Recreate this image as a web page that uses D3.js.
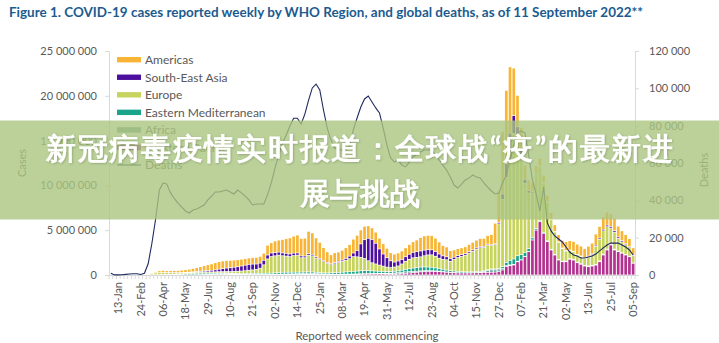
<!DOCTYPE html>
<html><head><meta charset="utf-8">
<script src="https://cdn.jsdelivr.net/npm/d3@7"></script>
<style>
body{margin:0;background:#fff}
svg{display:block}
text{font-family:Lato,"Open Sans",sans-serif}
</style>
</head><body>
<svg id="c" width="719" height="343"></svg>
<script>
// ---- DATA (weekly cases in thousands, week commencing 30-Dec-2019 .. 05-Sep-2022) ----
const firstWeek = "2019-12-30";
const westernPacific = [
0,0,0,1,10,20,20,10,5,3, 3,4,6,10,10,8,6,5,5,5, 5,6,7,8,10,12,15,18,25,35,
40,45,42,38,35,32,30,28,27,25, 25,25,27,30,33,40,45,50,55,60, 60,60,65,75,70,60,50,45,40,40,
40,45,50,55,60,70,80,100,110,120, 125,130,135,130,120,110,110,120,140,180, 220,260,300,350,380,400,400,390,370,340,
300,270,250,230,220,220,220,230,250,260, 270,290,300,320,370,560,930,1040,1120,1480,
1670,2040,2600,3900,5000,5950,4650,3720,2790,2230, 1670,1480,1480,1750,1670,1370,1190,1000,930,1000,
1100,1480,2230,2790,3350,2790,2600,2420,2230,2040, 1300];
const africa = [
0,0,0,0,0,0,0,0,0,0, 0,1,2,3,4,5,6,8,10,12, 15,20,25,30,40,50,60,75,90,100,
95,85,70,60,55,45,40,35,35,35, 35,35,40,40,45,50,55,60,65,75, 90,110,120,130,120,100,80,65,55,45,
40,40,40,40,40,40,40,40,40,40, 40,45,50,60,70,90,110,140,160,170, 160,140,120,110,100,90,80,70,60,50,
40,35,30,25,20,20,20,20,25,40, 100,200,270,250,200,150,120,90,70,50,
40,30,25,20,20,15,15,15,15,20, 25,30,40,45,45,45,40,35,30,25,
20,20,15,15,15,12,12,10,10,10, 8];
const easternMediterranean = [
0,0,0,0,0,0,0,0,0,2, 10,20,30,35,40,45,55,65,75,90, 110,120,130,140,145,140,130,120,110,100,
95,90,85,85,90,95,100,105,110,115, 120,125,130,140,160,180,200,200,190,180, 170,160,150,150,150,140,130,130,140,160,
180,200,220,250,270,290,310,330,340,330, 300,260,220,200,190,180,190,200,230,270, 320,370,400,420,420,400,370,330,290,250,
210,180,160,140,130,120,110,105,100,100, 100,100,100,110,140,220,350,500,600,620,
560,450,330,230,160,120,100,80,60,50, 40,35,30,30,30,30,35,40,50,60,
70,80,90,90,85,80,70,60,50,45, 40];
const europe = [
0,0,0,0,0,0,0,0,5,25, 80,150,190,220,230,200,190,170,150,130, 120,120,120,130,130,140,140,130,130,140,
150,170,190,220,240,270,310,360,400,450, 580,950,1600,1850,1900,1950,1850,1800,1750,1850, 1900,1600,1600,1850,1800,1600,1450,1250,1050,900,
1000,1100,1200,1300,1450,1650,1600,1500,1350,1100, 900,800,700,600,500,450,480,550,700,900, 1050,1150,1150,1150,1250,1350,1400,1300,1150,1100,
1150,1050,1300,1550,1700,1850,2100,2300,2500,2650, 2600,2750,2600,2700,5000,7500,9500,12000,14000,13000,
11000,7700,6200,5000,6000,6000,5500,4300,3300,2500, 1900,1400,1100,900,850,800,800,750,1000,1200,
2000,2400,2600,2500,1800,1900,1400,1200,1100,950, 800];
const southEastAsia = [
0,0,0,0,0,0,0,0,0,0, 0,1,3,5,8,12,15,20,25,35, 45,55,70,85,100,120,150,180,220,270,
330,380,420,460,500,560,610,650,640,600, 560,500,430,390,360,330,310,300,290,270, 240,200,180,170,160,140,130,120,110,110,
120,130,150,200,280,400,700,1500,2100,2500, 2600,2300,1800,1350,1050,750,550,550,500,520, 560,600,640,650,620,580,560,520,470,400,
330,280,240,220,200,180,160,150,140,130, 120,110,100,100,150,600,1500,2200,2000,1400,
800,450,250,150,110,90,70,60,50,50, 60,70,70,60,50,50,60,70,100,120,
130,140,160,170,170,170,160,140,120,110, 90];
const americas = [
0,0,0,0,0,0,0,0,0,1, 8,40,110,200,220,210,220,230,240,260, 290,330,380,430,500,580,650,720,800,840,
860,850,830,800,780,760,740,720,730,740, 760,800,1100,1150,1300,1350,1500,1650,1800,1900, 2000,1950,2000,2500,2400,2100,1800,1450,1200,1000,
1100,1050,1100,1200,1300,1550,1700,1550,1500,1400, 1300,1250,1200,1150,1050,900,900,900,950,1000, 1100,1200,1300,1500,1600,1600,1600,1500,1350,1150,
1100,900,820,780,760,760,800,850,880,900, 900,950,1150,2300,3500,7000,8200,7400,5300,3500,
2400,1600,1200,1000,900,850,800,750,750,750, 800,850,1000,1050,1100,1150,1100,1050,1100,1150,
1250,1300,1400,1450,1400,1400,1200,1100,1000,900, 800];
// global weekly deaths
const deaths = [
900,50,50,150,350,550,700,650,250,900, 6000,17000,30000,45500,49300,48700,44000,41000,38500,36400,
34300,33200,34800,35300,36400,37500,40200,42300,44500,44500, 45000,45500,44500,43400,45500,44000,42300,40200,37500,38000,
38000,38000,42900,49300,57300,64300,70700,75000,79800,84000, 84000,80900,86200,93700,100200,102300,99100,88400,78700,72300,
68000,67000,67000,67000,69100,77700,84100,90000,94300,95900, 92700,89500,86800,78700,69600,62700,60500,61600,58900,57900,
60500,63200,64800,65900,67000,67000,67000,64300,61600,58900, 56200,52500,48200,46600,48700,50900,51900,53600,52500,52000,
49300,47100,45000,43400,43900,49300,53600,61600,69600,76100, 77100,76100,64300,50900,43400,34300,47100,27900,23600,20900,
19300,17700,15000,12300,10700,10200,9100,9100,9600,10200, 11200,12900,14500,16100,17100,17100,17100,16100,15000,13400,
10700];
const regionKeys = ["Western Pacific","Africa","Eastern Mediterranean","Europe","South-East Asia","Americas"];
const regionColors = ["#b3318f","#6e9e9b","#1aa58a","#c6d35c","#4d0f9e","#f8b535"];
const legendOrder = ["Americas","South-East Asia","Europe","Eastern Mediterranean","Africa","Western Pacific","Deaths"];
const leftTicks = [0,5e6,10e6,15e6,20e6,25e6];
const rightTicks = [0,20000,40000,60000,80000,100000,120000];
const titleText = "Figure 1. COVID-19 cases reported weekly by WHO Region, and global deaths, as of 11 September 2022**";
const bannerLines = ["新冠病毒疫情实时报道：全球战“疫”的最新进","展与挑战"];

// ---- CHART ----
const svg = d3.select("#c");
const defs = svg.append("defs");
const f = defs.append("filter").attr("id","sh").attr("x","-5%").attr("y","-20%").attr("width","110%").attr("height","140%");
f.append("feDropShadow").attr("dx",0.8).attr("dy",0.8).attr("stdDeviation",0.8)
  .attr("flood-color","#000").attr("flood-opacity",0.22);

const seriesByKey = {"Western Pacific":westernPacific,"Africa":africa,"Eastern Mediterranean":easternMediterranean,
  "Europe":europe,"South-East Asia":southEastAsia,"Americas":americas};
const color = d3.scaleOrdinal().domain(regionKeys).range(regionColors);
const t0 = d3.timeParse("%Y-%m-%d")(firstWeek);
const weeks = d3.range(americas.length).map(i => d3.timeDay.offset(t0, 7*i));
const fmt = d3.timeFormat("%d-%b");
const rows = weeks.map((w,i) => { const r = {i}; regionKeys.forEach(k => r[k] = seriesByKey[k][i]*1000); return r; });
const stacked = d3.stack().keys(regionKeys)(rows);

const L = 109, R = 635, T = 51, B = 275;
const x = d3.scaleBand().domain(d3.range(weeks.length)).range([L,R]).paddingInner(0.28).paddingOuter(0.14);
const y = d3.scaleLinear().domain([0,25e6]).range([B,T]);
const yR = d3.scaleLinear().domain([0,120000]).range([B,T]);
const spaceFmt = d => d3.format(",")(d).replace(/,/g," ");

// title
svg.append("text").attr("x",9).attr("y",17).attr("font-size",14).attr("font-weight",700)
  .attr("fill","#1c5b8f").attr("textLength",634).attr("lengthAdjust","spacingAndGlyphs").text(titleText);

// axes
const gl = svg.append("g").attr("transform",`translate(${L},0)`)
  .call(d3.axisLeft(y).tickValues(leftTicks).tickFormat(spaceFmt).tickSize(4).tickSizeOuter(0).tickPadding(8));
const gr = svg.append("g").attr("transform",`translate(${R},0)`)
  .call(d3.axisRight(yR).tickValues(rightTicks).tickFormat(spaceFmt).tickSize(4).tickSizeOuter(0).tickPadding(10));
[gl,gr].forEach(g => {
  g.select(".domain").attr("stroke","#d9d9d9");
  g.selectAll(".tick line").attr("stroke","#d9d9d9");
  g.selectAll("text").attr("font-family","Lato").attr("font-size",11).attr("fill","#595959");
});

// x axis line and ticks
svg.append("line").attr("x1",L).attr("x2",R).attr("y1",B+0.5).attr("y2",B+0.5).attr("stroke","#d9d9d9");
svg.append("g").selectAll("line").data(d3.range(weeks.length+1)).join("line")
  .attr("x1",i => L + i*x.step()).attr("x2",i => L + i*x.step())
  .attr("y1",B+0.5).attr("y2",B+4).attr("stroke","#d9d9d9");
svg.append("g").selectAll("text").data(d3.range(2,weeks.length,6)).join("text")
  .attr("transform",i => `translate(${x(i)+x.bandwidth()/2},${B+7}) rotate(-90)`)
  .attr("text-anchor","end").attr("dy","0.35em").attr("font-size",11).attr("fill","#595959")
  .text(i => fmt(weeks[i]));

// bars
svg.append("g").selectAll("g").data(stacked).join("g").attr("fill",d => color(d.key))
  .selectAll("rect").data(d => d).join("rect")
  .attr("x",d => x(d.data.i)).attr("width",x.bandwidth())
  .attr("y",d => y(d[1]) + 0.35)
  .attr("height",d => Math.max(0, y(d[0]) - y(d[1]) - 0.7));

// deaths line
svg.append("path").datum(deaths).attr("fill","none").attr("stroke","#1e2a5e").attr("stroke-width",1.1)
  .attr("d", d3.line().x((d,i) => x(i)+x.bandwidth()/2).y(d => yR(d)));

// axis titles
svg.append("text").attr("transform","translate(26,163) rotate(-90)").attr("text-anchor","middle")
  .attr("font-size",11).attr("fill","#595959").text("Cases");
svg.append("text").attr("transform","translate(708,170) rotate(-90)").attr("text-anchor","middle")
  .attr("font-size",11).attr("fill","#595959").text("Deaths");
svg.append("text").attr("x",367).attr("y",340).attr("text-anchor","middle")
  .attr("font-size",11.5).attr("fill","#595959").text("Reported week commencing");

// legend
const lg = svg.append("g").selectAll("g").data(legendOrder).join("g")
  .attr("transform",(d,i) => `translate(117,${59.7 + i*17.55})`);
lg.filter(d => d !== "Deaths").append("rect").attr("x",0).attr("y",-2.7).attr("width",24).attr("height",5.4)
  .attr("fill",d => color(d));
lg.filter(d => d === "Deaths").append("line").attr("x1",0).attr("x2",24).attr("stroke","#1e2a5e").attr("stroke-width",1.2);
lg.append("text").attr("x",28).attr("y",4.3).attr("font-size",12).attr("fill","#595959").text(d => d);

// banner overlay
svg.append("rect").attr("x",0).attr("y",120.5).attr("width",719).attr("height",99)
  .attr("fill","rgb(170,198,128)").attr("opacity",0.8);
svg.append("g").selectAll("text").data(bannerLines).join("text")
  .attr("x",359.5).attr("y",(d,i) => 147 + i*45).attr("text-anchor","middle").attr("dominant-baseline","central")
  .attr("font-family","'Noto Sans CJK SC'").attr("font-weight",700).attr("font-size",30)
  .attr("fill","#ffffff").attr("filter","url(#sh)")
  .each(function(d,i){ if(i===0) d3.select(this).attr("textLength",627).attr("lengthAdjust","spacing"); })
  .text(d => d);
</script>
</body></html>
